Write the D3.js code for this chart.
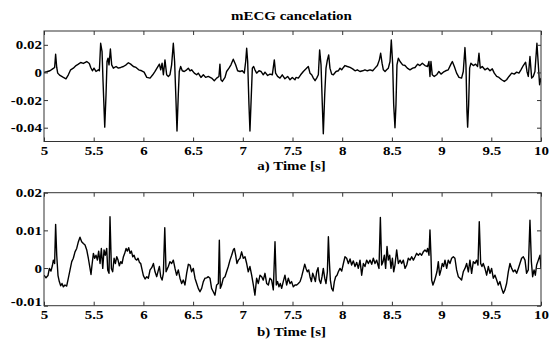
<!DOCTYPE html>
<html>
<head>
<meta charset="utf-8">
<script src="https://cdn.jsdelivr.net/npm/d3@7"></script>
<style>
  body { margin: 0; background: #fff; }
  text { font-family: "Liberation Serif", "Times New Roman", serif; font-weight: bold; fill: #000; }
</style>
</head>
<body>
<div id="chart"></div>
<script>
// text in the reference is a bit wider than the font, so squeeze it out horizontally
const TEXT_STRETCH = 1.15;

const titleText = 'mECG cancelation';
const xTickValues = [5, 5.5, 6, 6.5, 7, 7.5, 8, 8.5, 9, 9.5, 10];
const xTickLabels = ['5', '5.5', '6', '6.5', '7', '7.5', '8', '8.5', '9', '9.5', '10'];

// panel a) residual maternal ECG
const topYTicks = [-0.04, -0.02, 0, 0.02];
const topYLabels = ['-0.04', '-0.02', '0', '0.02'];
const topTime = [
  5.000, 5.027, 5.060, 5.087, 5.107, 5.117, 5.128, 5.138, 5.161, 5.195, 5.221, 5.245, 5.268, 5.295, 5.322, 5.346,
  5.369, 5.396, 5.430, 5.456, 5.470, 5.487, 5.503, 5.523, 5.547, 5.557, 5.570, 5.584, 5.594, 5.611, 5.624, 5.634,
  5.644, 5.654, 5.668, 5.681, 5.698, 5.725, 5.748, 5.772, 5.799, 5.826, 5.849, 5.872, 5.899, 5.926, 5.953, 5.983,
  6.007, 6.034, 6.067, 6.094, 6.117, 6.141, 6.161, 6.174, 6.188, 6.201, 6.217, 6.234, 6.251, 6.267, 6.284, 6.301,
  6.314, 6.328, 6.338, 6.351, 6.361, 6.375, 6.391, 6.411, 6.435, 6.452, 6.469, 6.485, 6.512, 6.536, 6.552, 6.579,
  6.603, 6.626, 6.653, 6.686, 6.713, 6.737, 6.760, 6.770, 6.780, 6.794, 6.821, 6.837, 6.861, 6.881, 6.904, 6.928,
  6.948, 6.972, 6.995, 7.015, 7.029, 7.039, 7.049, 7.062, 7.072, 7.082, 7.096, 7.109, 7.122, 7.139, 7.163, 7.183,
  7.206, 7.223, 7.250, 7.273, 7.297, 7.317, 7.330, 7.350, 7.374, 7.397, 7.424, 7.451, 7.475, 7.498, 7.525, 7.535,
  7.559, 7.582, 7.609, 7.636, 7.659, 7.676, 7.693, 7.710, 7.727, 7.743, 7.760, 7.773, 7.787, 7.800, 7.810, 7.824,
  7.837, 7.851, 7.864, 7.877, 7.894, 7.911, 7.938, 7.961, 7.978, 7.995, 8.012, 8.028, 8.052, 8.079, 8.105, 8.129,
  8.152, 8.179, 8.206, 8.229, 8.253, 8.280, 8.307, 8.330, 8.354, 8.374, 8.387, 8.401, 8.414, 8.431, 8.447, 8.464,
  8.481, 8.494, 8.508, 8.518, 8.531, 8.541, 8.551, 8.565, 8.582, 8.608, 8.632, 8.655, 8.682, 8.709, 8.733, 8.759,
  8.782, 8.806, 8.833, 8.859, 8.873, 8.883, 8.893, 8.906, 8.926, 8.950, 8.973, 8.994, 9.017, 9.041, 9.067, 9.094,
  9.108, 9.128, 9.151, 9.175, 9.201, 9.218, 9.235, 9.245, 9.255, 9.262, 9.272, 9.282, 9.295, 9.319, 9.342, 9.362,
  9.376, 9.389, 9.409, 9.436, 9.463, 9.487, 9.510, 9.530, 9.554, 9.577, 9.604, 9.631, 9.654, 9.678, 9.705, 9.731,
  9.755, 9.778, 9.798, 9.822, 9.845, 9.859, 9.872, 9.889, 9.906, 9.922, 9.939, 9.959, 9.973, 9.986, 10.000
];
const topValue = [
  0.0000, 0.0005, 0.0012, 0.0026, 0.0036, 0.0132, 0.0036, -0.0005, -0.0022, -0.0036, -0.0046, -0.0017, 0.0019, 0.0031, 0.0050, 0.0060,
  0.0072, 0.0065, 0.0079, 0.0065, 0.0036, 0.0012, 0.0031, 0.0007, 0.0019, 0.0012, 0.0211, 0.0151, -0.0065, -0.0396, -0.0161, 0.0079,
  0.0103, 0.0055, 0.0170, 0.0055, 0.0031, 0.0043, 0.0031, 0.0036, 0.0043, 0.0055, 0.0070, 0.0060, 0.0043, 0.0036, 0.0019, 0.0012,
  0.0002, -0.0036, -0.0041, -0.0017, 0.0007, 0.0036, 0.0060, 0.0019, 0.0067, -0.0017, 0.0091, -0.0017, -0.0029, -0.0017, 0.0055, 0.0211,
  0.0079, -0.0209, -0.0424, -0.0161, 0.0007, 0.0043, 0.0012, 0.0007, 0.0019, 0.0031, 0.0012, 0.0019, -0.0005, -0.0017, -0.0005, -0.0036,
  -0.0017, -0.0036, -0.0029, -0.0041, -0.0060, -0.0041, -0.0029, 0.0060, -0.0053, -0.0065, -0.0036, 0.0007, 0.0031, 0.0055, 0.0096, 0.0055,
  0.0012, 0.0007, 0.0012, -0.0005, 0.0079, 0.0175, 0.0079, -0.0233, -0.0424, -0.0233, 0.0031, 0.0043, 0.0019, -0.0005, 0.0012, 0.0007,
  -0.0017, 0.0002, -0.0022, -0.0012, -0.0017, 0.0091, -0.0005, -0.0029, -0.0041, -0.0017, -0.0046, -0.0029, -0.0053, -0.0036, -0.0053, -0.0036,
  -0.0041, -0.0017, 0.0007, 0.0026, 0.0043, -0.0005, -0.0017, -0.0041, -0.0060, -0.0041, -0.0017, 0.0163, 0.0055, -0.0233, -0.0444, -0.0161,
  0.0031, 0.0091, 0.0127, 0.0031, -0.0012, -0.0017, 0.0007, 0.0012, 0.0031, 0.0019, 0.0036, 0.0050, 0.0043, 0.0036, 0.0026, 0.0012,
  0.0019, 0.0007, 0.0012, 0.0019, 0.0012, 0.0019, 0.0012, 0.0031, 0.0050, 0.0091, 0.0139, 0.0067, 0.0019, 0.0007, 0.0019, 0.0031,
  0.0079, 0.0235, 0.0055, -0.0233, -0.0400, -0.0233, 0.0055, 0.0103, 0.0079, 0.0055, 0.0050, 0.0031, 0.0019, 0.0031, 0.0036, 0.0060,
  0.0050, 0.0067, 0.0050, 0.0043, 0.0079, -0.0029, 0.0079, -0.0017, -0.0029, -0.0017, 0.0007, -0.0012, 0.0002, 0.0012, 0.0019, 0.0060,
  0.0079, 0.0043, -0.0005, -0.0036, -0.0041, 0.0007, 0.0180, 0.0055, -0.0281, -0.0396, -0.0233, 0.0031, 0.0067, 0.0050, 0.0060, 0.0043,
  0.0139, 0.0031, 0.0043, 0.0019, 0.0031, 0.0012, 0.0026, -0.0005, -0.0029, -0.0036, -0.0053, -0.0065, -0.0053, -0.0029, -0.0005, -0.0012,
  0.0002, -0.0005, 0.0019, 0.0050, 0.0074, 0.0007, -0.0029, 0.0115, -0.0041, -0.0029, 0.0007, 0.0211, 0.0055, -0.0089, -0.0040
];

// panel b) extracted fetal ECG
const bottomYTicks = [-0.01, 0, 0.01, 0.02];
const bottomYLabels = ['-0.01', '0', '0.01', '0.02'];
const bottomTime = [
  5.000, 5.020, 5.040, 5.054, 5.070, 5.084, 5.094, 5.107, 5.117, 5.128, 5.141, 5.154, 5.168, 5.181, 5.195, 5.211,
  5.228, 5.245, 5.262, 5.279, 5.295, 5.312, 5.329, 5.346, 5.362, 5.379, 5.396, 5.413, 5.430, 5.446, 5.463, 5.473,
  5.483, 5.497, 5.510, 5.523, 5.537, 5.550, 5.564, 5.577, 5.591, 5.604, 5.617, 5.631, 5.641, 5.654, 5.664, 5.678,
  5.691, 5.705, 5.718, 5.732, 5.745, 5.758, 5.772, 5.785, 5.799, 5.812, 5.826, 5.839, 5.852, 5.866, 5.879, 5.893,
  5.906, 5.919, 5.933, 5.946, 5.960, 5.973, 5.987, 6.000, 6.017, 6.034, 6.050, 6.067, 6.084, 6.101, 6.117, 6.134,
  6.151, 6.161, 6.174, 6.188, 6.201, 6.215, 6.228, 6.242, 6.251, 6.267, 6.284, 6.301, 6.318, 6.334, 6.351, 6.368,
  6.385, 6.401, 6.418, 6.435, 6.452, 6.469, 6.485, 6.502, 6.519, 6.536, 6.552, 6.569, 6.586, 6.603, 6.619, 6.636,
  6.653, 6.670, 6.686, 6.703, 6.720, 6.737, 6.754, 6.764, 6.774, 6.787, 6.804, 6.821, 6.837, 6.854, 6.871, 6.888,
  6.904, 6.915, 6.928, 6.941, 6.955, 6.972, 6.988, 7.005, 7.022, 7.039, 7.055, 7.072, 7.089, 7.106, 7.122, 7.139,
  7.156, 7.173, 7.190, 7.206, 7.223, 7.240, 7.257, 7.273, 7.290, 7.307, 7.324, 7.337, 7.350, 7.364, 7.377, 7.391,
  7.407, 7.424, 7.441, 7.458, 7.475, 7.491, 7.508, 7.525, 7.542, 7.559, 7.576, 7.592, 7.609, 7.623, 7.636, 7.649,
  7.663, 7.676, 7.690, 7.703, 7.716, 7.730, 7.743, 7.757, 7.770, 7.784, 7.797, 7.810, 7.824, 7.837, 7.851, 7.861,
  7.871, 7.881, 7.894, 7.908, 7.921, 7.934, 7.948, 7.961, 7.978, 7.995, 8.012, 8.028, 8.045, 8.062, 8.079, 8.095,
  8.112, 8.129, 8.146, 8.162, 8.179, 8.196, 8.213, 8.229, 8.246, 8.263, 8.280, 8.297, 8.313, 8.330, 8.347, 8.360,
  8.370, 8.384, 8.397, 8.411, 8.424, 8.437, 8.451, 8.464, 8.478, 8.491, 8.505, 8.518, 8.531, 8.548, 8.565, 8.582,
  8.598, 8.615, 8.632, 8.649, 8.665, 8.682, 8.699, 8.716, 8.733, 8.749, 8.766, 8.782, 8.799, 8.816, 8.833, 8.849,
  8.859, 8.873, 8.883, 8.893, 8.900, 8.913, 8.926, 8.940, 8.953, 8.967, 8.980, 8.994, 9.007, 9.020, 9.034, 9.051,
  9.067, 9.084, 9.101, 9.118, 9.134, 9.151, 9.168, 9.185, 9.201, 9.218, 9.235, 9.252, 9.269, 9.285, 9.302, 9.319,
  9.336, 9.352, 9.366, 9.379, 9.393, 9.406, 9.419, 9.436, 9.453, 9.470, 9.487, 9.503, 9.520, 9.537, 9.554, 9.570,
  9.587, 9.604, 9.621, 9.637, 9.654, 9.671, 9.688, 9.705, 9.721, 9.738, 9.755, 9.772, 9.788, 9.805, 9.822, 9.839,
  9.855, 9.872, 9.889, 9.903, 9.916, 9.930, 9.943, 9.956, 9.973, 9.990, 10.000
];
const bottomValue = [
  -0.0019, -0.0026, -0.0020, -0.0001, -0.0008, 0.0006, 0.0021, 0.0012, 0.0116, 0.0034, -0.0020, -0.0036, -0.0047, -0.0041, -0.0050, -0.0045,
  -0.0048, -0.0027, -0.0005, 0.0017, 0.0026, 0.0043, 0.0052, 0.0070, 0.0082, 0.0070, 0.0065, 0.0061, 0.0048, 0.0026, -0.0001, -0.0017,
  0.0008, 0.0039, 0.0026, 0.0034, 0.0021, 0.0045, 0.0012, 0.0052, -0.0001, 0.0048, 0.0034, 0.0052, -0.0005, -0.0014, 0.0136, -0.0001,
  -0.0010, 0.0026, 0.0012, 0.0030, 0.0021, 0.0006, 0.0017, 0.0012, 0.0030, 0.0039, 0.0052, 0.0045, 0.0054, 0.0039, 0.0045, 0.0030,
  0.0034, 0.0024, 0.0021, 0.0026, 0.0015, 0.0012, -0.0005, -0.0020, -0.0029, -0.0023, -0.0027, -0.0005, 0.0001, 0.0012, -0.0010, -0.0023,
  -0.0005, 0.0004, -0.0023, -0.0032, -0.0014, 0.0107, -0.0010, -0.0001, 0.0004, 0.0017, 0.0012, 0.0021, -0.0001, -0.0019, -0.0005, -0.0027,
  -0.0041, -0.0032, -0.0045, -0.0014, 0.0010, 0.0008, -0.0010, -0.0001, -0.0027, -0.0041, -0.0054, -0.0063, -0.0054, -0.0036, -0.0027, -0.0026,
  -0.0023, -0.0027, -0.0054, -0.0063, -0.0072, -0.0045, -0.0041, 0.0074, -0.0054, -0.0045, -0.0027, -0.0023, -0.0010, 0.0004, 0.0021, 0.0034,
  0.0048, 0.0052, 0.0034, 0.0012, 0.0021, 0.0026, 0.0043, 0.0026, 0.0030, 0.0012, -0.0010, 0.0004, -0.0019, -0.0045, -0.0072, -0.0027,
  -0.0041, -0.0019, -0.0023, -0.0032, -0.0014, -0.0041, -0.0045, -0.0027, -0.0032, -0.0058, 0.0070, -0.0045, -0.0036, -0.0050, -0.0041, -0.0054,
  -0.0036, -0.0019, -0.0045, -0.0027, -0.0041, -0.0036, -0.0050, -0.0045, -0.0045, -0.0041, -0.0036, -0.0023, -0.0005, 0.0010, -0.0001, -0.0010,
  -0.0005, -0.0023, -0.0036, -0.0014, -0.0023, -0.0036, -0.0010, 0.0001, -0.0032, -0.0041, -0.0023, -0.0001, -0.0027, -0.0041, -0.0010, 0.0083,
  0.0017, -0.0032, -0.0054, -0.0061, -0.0036, -0.0023, -0.0019, -0.0010, -0.0001, -0.0008, 0.0012, 0.0030, 0.0026, 0.0012, 0.0024, 0.0008,
  0.0019, 0.0004, 0.0015, -0.0001, 0.0021, -0.0019, 0.0012, 0.0004, 0.0021, 0.0012, 0.0021, 0.0010, 0.0026, 0.0012, 0.0021, 0.0008,
  -0.0001, 0.0134, 0.0008, 0.0017, 0.0034, -0.0001, 0.0057, 0.0021, 0.0034, -0.0001, 0.0026, -0.0010, 0.0008, 0.0048, 0.0012, 0.0021,
  0.0012, 0.0021, -0.0001, 0.0008, 0.0026, 0.0021, 0.0030, 0.0021, 0.0030, 0.0039, 0.0034, 0.0039, 0.0034, 0.0043, 0.0048, 0.0043,
  0.0052, 0.0034, 0.0101, 0.0034, -0.0032, -0.0045, -0.0036, -0.0023, -0.0010, 0.0017, -0.0019, -0.0005, 0.0012, 0.0004, 0.0021, -0.0001,
  0.0021, 0.0012, 0.0026, 0.0030, 0.0026, -0.0005, -0.0023, -0.0027, -0.0032, -0.0010, -0.0001, 0.0012, -0.0010, 0.0021, -0.0014, 0.0017,
  0.0012, 0.0021, 0.0008, 0.0123, 0.0012, 0.0004, 0.0012, -0.0001, -0.0019, 0.0004, -0.0014, -0.0001, -0.0027, -0.0019, -0.0032, -0.0045,
  -0.0036, -0.0054, -0.0067, -0.0058, -0.0041, -0.0010, 0.0012, -0.0001, -0.0010, -0.0005, -0.0014, -0.0001, 0.0012, 0.0026, 0.0030, 0.0021,
  -0.0014, -0.0005, 0.0127, 0.0017, -0.0023, -0.0005, -0.0019, 0.0008, 0.0021, 0.0034, -0.0001
];

const width = 556;
const height = 340;
const plotLeft = 44;
const plotRight = 541;

const svg = d3.select('#chart').append('svg')
  .attr('width', width)
  .attr('height', height);

function stretchedText(x, y, str) {
  return svg.append('text')
    .attr('transform', `translate(${x},${y}) scale(${TEXT_STRETCH},1)`)
    .attr('text-anchor', 'middle')
    .style('font-size', '13px')
    .text(str);
}

function drawPanel(id, time, value, yDomain, yTop, yBottom, yTicks, yLabels, xLabel, xLabelY) {
  const xScale = d3.scaleLinear().domain([5, 10]).range([plotLeft, plotRight]);
  const yScale = d3.scaleLinear().domain(yDomain).range([yBottom, yTop]);

  const g = svg.append('g');

  g.append('clipPath').attr('id', 'clip-' + id)
    .append('rect')
    .attr('x', plotLeft).attr('y', yTop)
    .attr('width', plotRight - plotLeft).attr('height', yBottom - yTop);

  const pts = time.map((t, i) => [t, value[i]]);
  const line = d3.line()
    .x(d => xScale(d[0]))
    .y(d => yScale(d[1]));

  g.append('path')
    .datum(pts)
    .attr('clip-path', `url(#clip-${id})`)
    .attr('d', line)
    .attr('fill', 'none')
    .attr('stroke', '#000')
    .attr('stroke-width', 1.4)
    .attr('stroke-linejoin', 'round');

  const fmtX = d => xTickLabels[xTickValues.indexOf(d)];
  const fmtY = d => yLabels[yTicks.indexOf(d)];

  const bottomAxis = g.append('g')
    .attr('transform', `translate(0,${yBottom})`)
    .call(d3.axisBottom(xScale).tickValues(xTickValues).tickFormat(fmtX)
      .tickSizeInner(-4).tickSizeOuter(0).tickPadding(4.5));
  g.append('g')
    .attr('transform', `translate(0,${yTop})`)
    .call(d3.axisTop(xScale).tickValues(xTickValues).tickFormat('')
      .tickSizeInner(-4).tickSizeOuter(0));
  const leftAxis = g.append('g')
    .attr('transform', `translate(${plotLeft},0)`)
    .call(d3.axisLeft(yScale).tickValues(yTicks).tickFormat(fmtY)
      .tickSizeInner(-4).tickSizeOuter(0).tickPadding(2));
  g.append('g')
    .attr('transform', `translate(${plotRight},0)`)
    .call(d3.axisRight(yScale).tickValues(yTicks).tickFormat('')
      .tickSizeInner(-4).tickSizeOuter(0));

  g.selectAll('.domain').remove();
  g.selectAll('.tick line').attr('stroke', '#333');

  bottomAxis.selectAll('text')
    .attr('transform', `scale(${TEXT_STRETCH},1)`);
  leftAxis.selectAll('text').each(function () {
    const t = d3.select(this);
    const x = +t.attr('x');
    t.attr('x', 0).attr('transform', `translate(${x},0) scale(${TEXT_STRETCH},1)`);
  });
  // lowest label sits a little above its tick in the reference
  leftAxis.selectAll('.tick').filter(d => d === yDomain[0] && yTicks[0] === yDomain[0])
    .select('text').attr('y', -4.5);

  g.selectAll('.tick text')
    .style('font-family', '"Liberation Serif", serif')
    .style('font-weight', 'bold')
    .style('font-size', '13px')
    .attr('fill', '#000');

  g.append('rect')
    .attr('x', plotLeft).attr('y', yTop)
    .attr('width', plotRight - plotLeft).attr('height', yBottom - yTop)
    .attr('fill', 'none')
    .attr('stroke', '#333')
    .attr('stroke-width', 1);

  stretchedText((plotLeft + plotRight) / 2 - 1, xLabelY, xLabel);
}

stretchedText(291.5, 19.5, titleText);
drawPanel('a', topTime, topValue, [-0.05, 0.03], 31, 141.5, topYTicks, topYLabels, 'a) Time [s]', 169.5);
drawPanel('b', bottomTime, bottomValue, [-0.01, 0.02], 192.7, 305.7, bottomYTicks, bottomYLabels, 'b) Time [s]', 335.5);
</script>
</body>
</html>
